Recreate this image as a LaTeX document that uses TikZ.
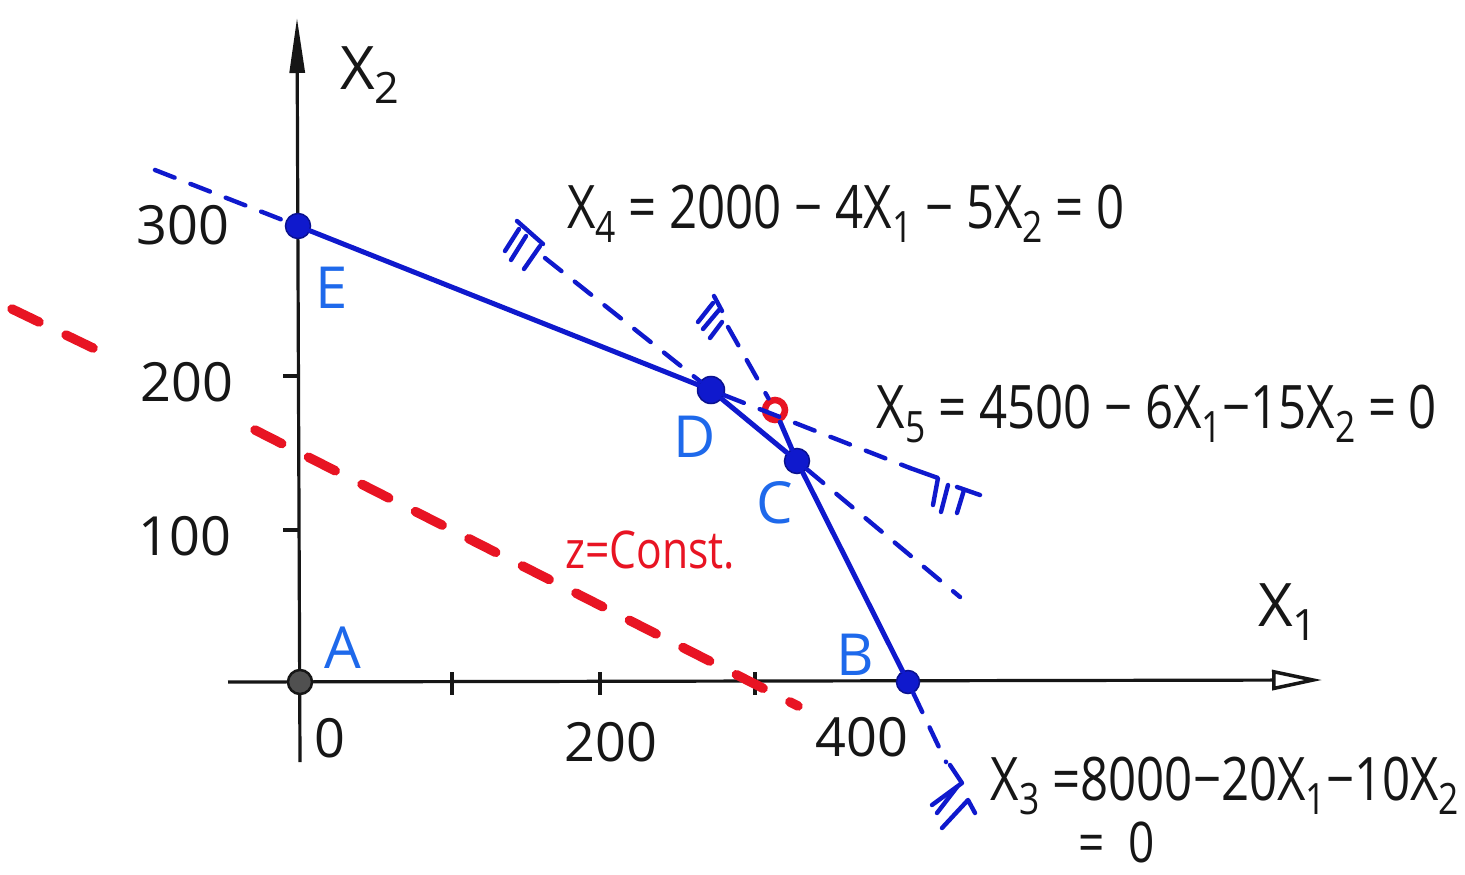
\documentclass[tikz,border=0pt]{standalone}
\usepackage{fontspec}
\setmainfont{Open Sans}
\newfontfamily\hand[FakeStretch=0.82]{Open Sans}
\newfontfamily\handn{Open Sans}
\usetikzlibrary{arrows.meta}
\definecolor{pen}{RGB}{15,25,205}
\definecolor{lbl}{RGB}{30,105,235}
\definecolor{rd}{RGB}{232,20,35}
\definecolor{ink}{RGB}{22,22,22}
\newcommand\sbx[1]{\raisebox{-0.24em}{\scalebox{0.72}{#1}}}
\begin{document}
\begin{tikzpicture}[x=1pt,y=-1pt,
  every node/.style={inner sep=0pt},
  axis/.style={ink, line width=3.2pt},
  solidb/.style={pen, line width=5pt, line cap=round},
  dashb/.style={pen, line width=4.4pt, dash pattern=on 21pt off 17pt, line cap=round},
  hatchb/.style={pen, line width=4.4pt, line cap=round, line join=round},
  zline/.style={rd, line width=9.5pt, dash pattern=on 30pt off 30pt, line cap=round},
  vtx/.style={circle, fill=pen, draw=pen!70!black, line width=1.5pt, minimum size=25pt},
  num/.style={ink, font=\handn\fontsize{54}{60}\selectfont},
  eqn/.style={ink, font=\hand\fontsize{60}{66}\selectfont},
  ptlbl/.style={lbl, font=\handn\fontsize{58}{64}\selectfont},
  axlbl/.style={ink, font=\handn\fontsize{60}{66}\selectfont}]
\useasboundingbox (0,0) rectangle (1465,875);
\fill[white] (0,0) rectangle (1465,875);

% axes
\coordinate (xs) at (228,682);
\coordinate (xe) at (1322,680);
\coordinate (ys) at (300,762);
\coordinate (ye) at (297,18);
\draw[axis, -{Triangle[open, length=50pt, width=20pt, line width=3.5pt]}] (xs) -- (xe);
\draw[axis, -{Triangle[length=55pt, width=15pt]}] (ys) -- (ye);
% ticks
\draw[axis] (452,672) -- (452,695);
\draw[axis] (600,672) -- (600,695);
\draw[axis] (755,672) -- (755,695);
\draw[axis] (283,530) -- (300,530);
\draw[axis] (283,376) -- (300,376);

% z = const line
\coordinate (z1) at (12,309);
\coordinate (z2) at (95,349);
\coordinate (z3) at (255,430);
\coordinate (z4) at (798,706);
\draw[zline] (z1) -- (z2);
\draw[zline] (z3) -- (z4);

% vertices
\node[circle, fill=ink!75, draw=ink, line width=2.5pt, minimum size=24pt] (A) at (300,682) {};
\node[vtx] (E) at (298,226) {};
\node[vtx, minimum size=27pt] (D) at (711,390) {};
\node[vtx] (C) at (797,461) {};
\node[vtx, minimum size=23pt] (B) at (908,682) {};
\node[circle, draw=rd, line width=6.5pt, minimum size=20pt] (R) at (775,410) {};

% constraint x5 (6x1+15x2=4500)
\coordinate (x5a) at (155,170);
\coordinate (x5b) at (910,468);
\draw[dashb] (x5a) -- (E);
\draw[solidb] (E) -- (D);
\draw[dashb] (D) -- (x5b);

% constraint x4 (4x1+5x2=2000)
\coordinate (x4a) at (545,258);
\coordinate (x4b) at (960,597);
\draw[dashb] (x4a) -- (D);
\draw[solidb] (D) -- (C);
\draw[dashb] (C) -- (x4b);

% constraint x3 (20x1+10x2=8000)
\coordinate (x3a) at (728,327);
\coordinate (x3b) at (946,762);
\draw[dashb] (x3a) -- (R);
\draw[solidb] (R) -- (C);
\draw[solidb] (C) -- (B);
\draw[dashb] (B) -- (x3b);

% hatches
\draw[hatchb] (517,221) -- (543,244);
\draw[hatchb] (519,229) -- (505,251);
\draw[hatchb] (526,236) -- (511,260);
\draw[hatchb] (540,246) -- (524,269);

\draw[hatchb] (714,296) -- (722,311);
\draw[hatchb] (713,303) -- (698,322);
\draw[hatchb] (719,310) -- (703,329);
\draw[hatchb] (722,322) -- (710,338);

\draw[hatchb] (x5b) -- (938,478) -- (933,505);
\draw[hatchb] (948,485) -- (941,512);
\draw[hatchb] (957,487) -- (980,495);
\draw[hatchb] (964,490) -- (957,513);

\draw[hatchb] (950,765) -- (962,783) -- (932,805);
\draw[hatchb] (957,787) -- (937,813);
\draw[hatchb] (942,828) -- (968,800) -- (975,813);

% axis labels
\node[axlbl] (lx2) at (370,75) {X\sbx{2}};
\node[axlbl] (lx1) at (1288,612) {X\sbx{1}};
\node[num] (n300) at (183,225) {300};
\node[num] (n200y) at (187,382) {200};
\node[num] (n100) at (185,536) {100};
\node[num] (n0) at (330,738) {0};
\node[num] (n200x) at (611,742) {200};
\node[num] (n400) at (862,737) {400};

% point labels
\node[ptlbl] (lE) at (332,288) {E};
\node[ptlbl] (lD) at (695,437) {D};
\node[ptlbl] (lC) at (775,503) {C};
\node[ptlbl] (lB) at (855,655) {B};
\node[ptlbl] (lA) at (343,648) {A};

% equations
\node[eqn] (f4) at (846,214) {X\sbx{4} = 2000 − 4X\sbx{1} − 5X\sbx{2} = 0};
\node[eqn] (f5) at (1157,414) {X\sbx{5} = 4500 − 6X\sbx{1}−15X\sbx{2} = 0};
\node[eqn] (f3a) at (1225,786) {X\sbx{3} =8000−20X\sbx{1}−10X\sbx{2}};
\node[eqn, font=\hand\fontsize{56}{60}\selectfont] (f3b) at (1117,842) {= \ 0};
\node[rd, font=\hand\fontsize{52}{58}\selectfont] (zc) at (650,550) {z=Const.};
\end{tikzpicture}
\end{document}
